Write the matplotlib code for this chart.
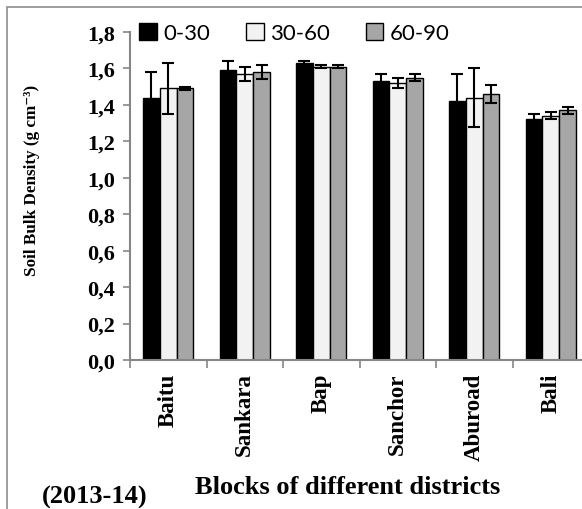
import matplotlib
matplotlib.use('Agg')
import matplotlib.pyplot as plt
import numpy as np
from matplotlib.patches import Rectangle

blocks = ['Baitu', 'Sankara', 'Bap', 'Sanchor', 'Aburoad', 'Bali']
depths = ['0-30', '30-60', '60-90']
d0_30 = [1.44, 1.59, 1.63, 1.53, 1.42, 1.32]
d30_60 = [1.49, 1.57, 1.61, 1.52, 1.44, 1.34]
d60_90 = [1.49, 1.58, 1.61, 1.55, 1.46, 1.37]
err0_30 = [0.14, 0.05, 0.01, 0.04, 0.15, 0.03]
err30_60 = [0.14, 0.04, 0.01, 0.03, 0.16, 0.02]
err60_90 = [0.01, 0.04, 0.01, 0.02, 0.05, 0.02]

W, H = 582, 510
fig = plt.figure(figsize=(W / 100, H / 100), dpi=100)

# outer frame (cut off at right/bottom like the source)
fig.patches.append(Rectangle((7 / W, -0.1), 1.2, (H - 8) / H + 0.1,
                             transform=fig.transFigure, fill=False,
                             edgecolor='#8c8c8c', linewidth=1.2))

left, right = 130, 589
top, bottom = 33, 361
ax = fig.add_axes([left / W, (H - bottom) / H, (right - left) / W, (bottom - top) / H])

x = np.arange(len(blocks))
w = 0.22
colors = ['#000000', '#f2f2f2', '#a6a6a6']
series = [d0_30, d30_60, d60_90]
errs = [err0_30, err30_60, err60_90]
for i, (vals, e, c, lab) in enumerate(zip(series, errs, colors, depths)):
    ax.bar(x + (i - 1) * w, vals, w, color=c, edgecolor='black', linewidth=1.0,
           label=lab, yerr=e, capsize=4,
           error_kw=dict(ecolor='black', elinewidth=1.5, capthick=1.5))

serif = 'Liberation Serif'
ax.set_xlim(-0.5, 5.5)
ax.set_ylim(0, 1.8)
ax.set_yticks(np.arange(0, 1.81, 0.2))
ax.set_yticklabels([f'{v:.1f}'.replace('.', ',') for v in np.arange(0, 1.81, 0.2)],
                   fontfamily=serif, fontweight='bold', fontsize=16)
ax.set_xticks(x)
ax.set_xticklabels(blocks, rotation=90, fontfamily=serif,
                   fontweight='bold', fontsize=16.5)
ax.set_xticks(np.arange(-0.5, 6, 1), minor=True)
ax.tick_params(axis='x', which='major', length=0, pad=9)
ax.tick_params(axis='x', which='minor', length=6, color='#868686', width=1.2)
ax.tick_params(axis='y', length=5, color='#868686', width=1.2, pad=6)

for s in ['top', 'right']:
    ax.spines[s].set_visible(False)
for s in ['left', 'bottom']:
    ax.spines[s].set_color('#868686')
    ax.spines[s].set_linewidth(1.5)

ax.set_ylabel('Soil Bulk Density (g cm\u207b\u00b3)', fontfamily=[serif, 'DejaVu Serif'],
              fontweight='bold', fontsize=12.3)
ax.yaxis.set_label_coords((40 - left) / (right - left), (bottom - 180) / (bottom - top))

leg = ax.legend(loc='upper left', bbox_to_anchor=(0.0, 1.055), ncol=3, frameon=False,
                prop={'family': 'Lato', 'size': 16}, handlelength=0.8, handleheight=0.8,
                handletextpad=0.3, columnspacing=1.6, borderaxespad=0)
for h in leg.legend_handles:
    h.set_linewidth(1.0)

fig.text(348 / W, 1 - 487 / H, 'Blocks of different districts', ha='center', va='center',
         fontfamily=serif, fontweight='bold', fontsize=19)
fig.text(95 / W, 1 - 497 / H, '(2013-14)', ha='center', va='center',
         fontfamily=serif, fontweight='bold', fontsize=19)

fig.savefig('out.png', dpi=100)
